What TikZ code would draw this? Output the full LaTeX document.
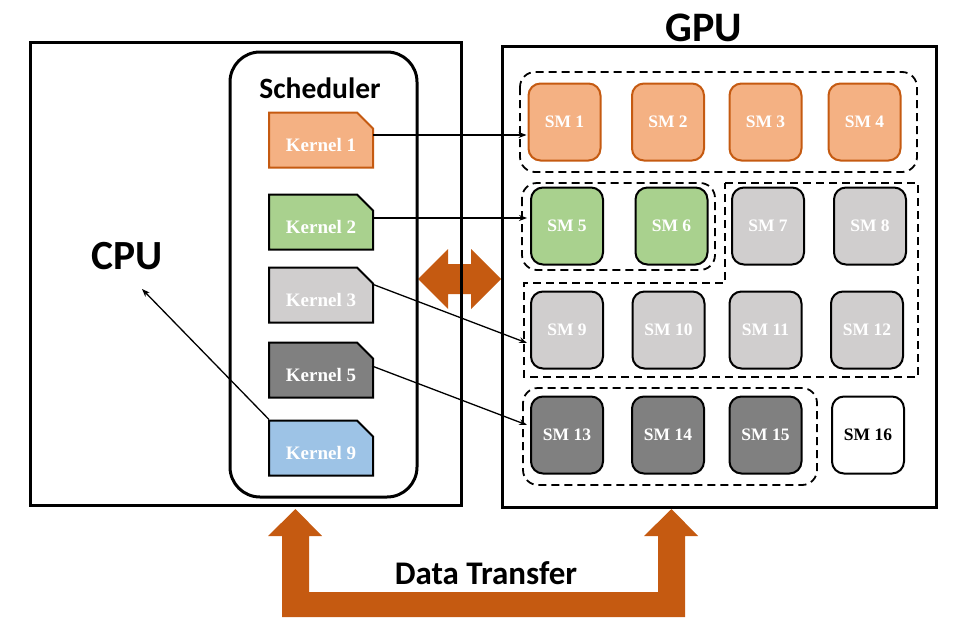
\documentclass[tikz,border=0pt]{standalone}
\usepackage{fontspec}
\setmainfont{Liberation Serif}
\newfontfamily\calfont{Carlito}
\usetikzlibrary{shapes.misc,arrows.meta,calc}
\definecolor{orF}{HTML}{F4B183}
\definecolor{orD}{HTML}{C55A11}
\definecolor{grF}{HTML}{A9D18E}
\definecolor{glF}{HTML}{D0CECE}
\definecolor{gdF}{HTML}{808080}
\definecolor{blF}{HTML}{9DC3E6}
\tikzset{
  bigbox/.style={draw, line width=3pt, inner sep=0pt},
  kernel/.style={chamfered rectangle, chamfered rectangle corners=north east, chamfered rectangle sep=8pt,
    draw, line width=2pt, minimum width=104pt, minimum height=55pt, inner sep=0pt,
    text height=22pt, text depth=0pt,
    text=white, font=\fontsize{19}{21}\selectfont\bfseries},
  sm/.style={draw, line width=2pt, rounded corners=12pt, minimum width=72pt, minimum height=77pt, inner sep=0pt,
    text=white, font=\fontsize{17.5}{19}\selectfont\bfseries},
  grp/.style={draw, line width=1.8pt, dash pattern=on 8pt off 5pt},
  conn/.style={draw, line width=1.3pt, -{Stealth[length=8pt,width=6pt]}},
  lbl/.style={font=\calfont\bfseries, inner sep=0pt},
}
\begin{document}
\begin{tikzpicture}[x=1pt,y=-1pt]
\useasboundingbox (0,0) rectangle (971,632);
% double arrow between CPU and GPU
\fill[orD] (418,279) -- (448,249) -- (448,264) -- (471,264) -- (471,249) -- (501,279)
  -- (471,309) -- (471,294) -- (448,294) -- (448,309) -- cycle;
% data transfer U arrow
\fill[orD] (282,536) -- (268,536) -- (295.5,509) -- (322,536) -- (309,536) -- (309,592)
  -- (658,592) -- (658,536) -- (644,536) -- (671.5,509) -- (698,536) -- (685,536)
  -- (685,617) -- (282,617) -- cycle;
% main boxes
\node[bigbox, minimum width=431pt, minimum height=463pt] (cpubox) at (245.5,273.5) {};
\node[bigbox, minimum width=434pt, minimum height=461pt] (gpubox) at (719,276.5) {};
\node[bigbox, rounded corners=30pt, minimum width=187pt, minimum height=445pt] (sched) at (323.5,274.5) {};
% labels
\node[lbl, font=\calfont\bfseries\fontsize{41.5}{44}\selectfont] (cpu) at (127,256) {CPU};
\node[lbl, font=\calfont\bfseries\fontsize{42}{44}\selectfont] (gpu) at (704,28) {GPU};
\node[lbl, font=\calfont\bfseries\fontsize{29.5}{31}\selectfont] (schedl) at (320,88) {Scheduler};
\node[lbl, font=\calfont\bfseries\fontsize{33}{35}\selectfont] (dt) at (486,573) {Data Transfer};
% kernels
\node[kernel, fill=orF, draw=orD] (k1) at (321,140) {Kernel 1};
\node[kernel, fill=grF] (k2) at (321,222) {Kernel 2};
\node[kernel, fill=glF] (k3) at (321,295) {Kernel 3};
\node[kernel, fill=gdF] (k5) at (321,370) {Kernel 5};
\node[kernel, fill=blF] (k9) at (321,448) {Kernel 9};
% SM groups
\draw[grp, rounded corners=15pt] (520,72) rectangle (917,172);
\draw[grp, rounded corners=15pt] (522,183) rectangle (715,270);
\draw[grp] (725,183) -- (918,183) -- (918,377) -- (524,377) -- (524,283) -- (725,283) -- cycle;
\draw[grp, rounded corners=15pt] (523,388) rectangle (817,485);
% SMs
\node[sm, fill=orF, draw=orD] (sm1) at (564.5,122) {SM 1};
\node[sm, fill=orF, draw=orD] (sm2) at (668,122) {SM 2};
\node[sm, fill=orF, draw=orD] (sm3) at (765.5,122) {SM 3};
\node[sm, fill=orF, draw=orD] (sm4) at (864.5,122) {SM 4};
\node[sm, fill=grF] (sm5) at (567,226) {SM 5};
\node[sm, fill=grF] (sm6) at (671.5,226) {SM 6};
\node[sm, fill=glF] (sm7) at (768,226) {SM 7};
\node[sm, fill=glF] (sm8) at (870,226) {SM 8};
\node[sm, fill=glF] (sm9) at (567,330) {SM 9};
\node[sm, fill=glF] (sm10) at (668.5,330) {SM 10};
\node[sm, fill=glF] (sm11) at (765.5,330) {SM 11};
\node[sm, fill=glF] (sm12) at (867,330) {SM 12};
\node[sm, fill=gdF] (sm13) at (567,435) {SM 13};
\node[sm, fill=gdF] (sm14) at (668,435) {SM 14};
\node[sm, fill=gdF] (sm15) at (765.5,435) {SM 15};
\node[sm, fill=white, text=black] (sm16) at (868,435) {SM 16};
% connectors
\coordinate (a1) at ([yshift=5pt,xshift=-1pt]k1.east);
\coordinate (a2) at ([yshift=4pt,xshift=-1pt]k2.east);
\coordinate (a3) at ([yshift=11pt,xshift=-2pt]k3.east);
\coordinate (b3) at ([yshift=-13pt,xshift=-3pt]sm9.west);
\coordinate (a5) at ([yshift=4pt,xshift=-2pt]k5.east);
\coordinate (b5) at ([yshift=10pt,xshift=-3pt]sm13.west);
\coordinate (cputip) at (142,289);
\draw[conn] (a1) -- ([xshift=-1pt]a1 -| sm1.west);
\draw[conn] (a2) -- ([xshift=-3pt]a2 -| sm5.west);
\draw[conn] (a3) -- (b3);
\draw[conn] (a5) -- (b5);
\draw[conn] ([xshift=1pt]k9.north west) -- (cputip);
\end{tikzpicture}
\end{document}
